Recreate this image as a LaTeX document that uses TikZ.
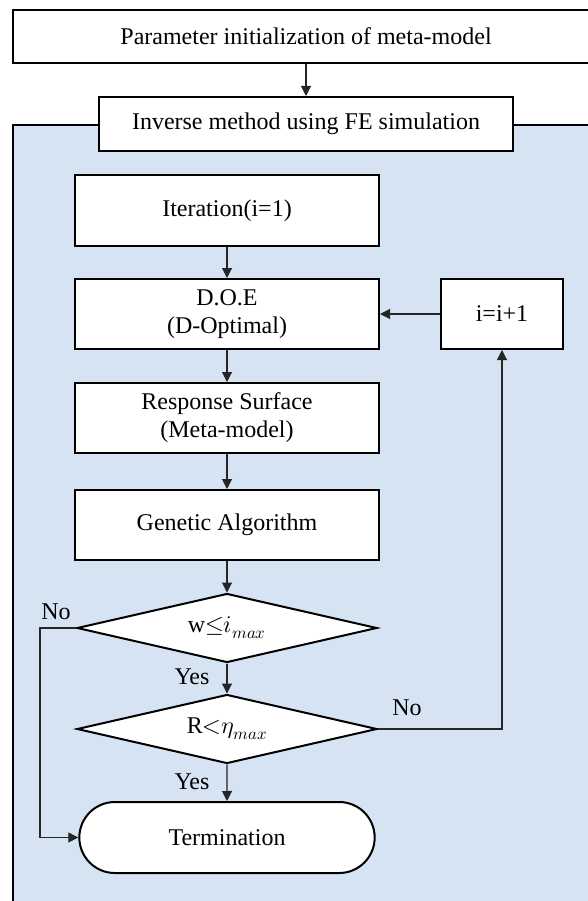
\documentclass[tikz,border=0pt]{standalone}
\usepackage{amsmath}
\usepackage{fontspec}
\usepackage{unicode-math}
\setmainfont{Liberation Serif}
\setmathfont{Latin Modern Math}
\usetikzlibrary{arrows.meta,shapes.geometric,shapes.misc}

\definecolor{panelblue}{RGB}{214,227,243}
\tikzset{
    procbox/.style={draw=black,line width=2pt,fill=white,align=center,inner sep=2pt},
    decbox/.style={diamond,draw=black,line width=2pt,fill=white,aspect=4.3,inner sep=1pt,
        minimum width=300pt,minimum height=69pt},
    endbox/.style={rounded rectangle,draw=black,line width=2pt,fill=white,
        minimum width=302pt,minimum height=71pt},
    flow/.style={draw=black!85,line width=1.1pt,-{Triangle[length=10pt,width=10pt]}},
    txt/.style={font=\fontsize{24}{28}\selectfont}
}

\begin{document}
\begin{tikzpicture}[x=1pt,y=-1pt,every node/.style={txt}]
        \useasboundingbox (0,0) rectangle (588,901);
        \clip (0,0) rectangle (588,901);
        \draw[fill=panelblue,line width=2pt] (13,125) rectangle (600,915); % shaded panel
        \node[procbox,minimum width=586pt,minimum height=53pt] (init) at (306,36.5)
        {Parameter initialization of meta-model}; % top box
        \node[procbox,minimum width=414pt,minimum height=54pt] (inverse) at (306,124)
        {Inverse method using FE simulation}; % panel title
        \node[procbox,minimum width=304pt,minimum height=71pt] (iter) at (227,210.5)
        {Iteration(i=1)};
        \node[procbox,minimum width=304pt,minimum height=70pt] (doe) at (227,314)
        {D.O.E\\(D-Optimal)};
        \node[procbox,minimum width=122pt,minimum height=70pt] (incr) at (502,314)
        {i=i+1};
        \node[procbox,minimum width=304pt,minimum height=70pt] (rsm) at (227,418)
        {Response Surface\\(Meta-model)};
        \node[procbox,minimum width=304pt,minimum height=70pt] (ga) at (227,525)
        {Genetic Algorithm};
        \node[decbox] (cond1) at (227,628) {w${\leq}i_{max}$}; % first check
        \node[decbox] (cond2) at (227,729) {R${<}\eta_{max}$}; % second check
        \node[endbox] (term) at (227,837.5) {Termination};
        \coordinate (lbend) at (40,628); % corner of the No branch
        \draw[flow] (init) -- (inverse);
        \draw[flow] (iter) -- (doe);
        \draw[flow] (doe) -- (rsm);
        \draw[flow] (rsm) -- (ga);
        \draw[flow] (ga) -- (cond1);
        \draw[flow] (cond1) -- (cond2);
        \draw[flow] (cond2) -- (term);
        \draw[flow] (incr) -- (doe);
        \draw[flow] (cond2.east) -| (incr.south); % loop back
        \draw[flow] (cond1.west) -- (lbend) |- (term.west);
        \node (no1) at (56,612) {No};
        \node (yes1) at (192,677) {Yes};
        \node (no2) at (407,708) {No};
        \node (yes2) at (192,782) {Yes};
    \end{tikzpicture}
\end{document}
